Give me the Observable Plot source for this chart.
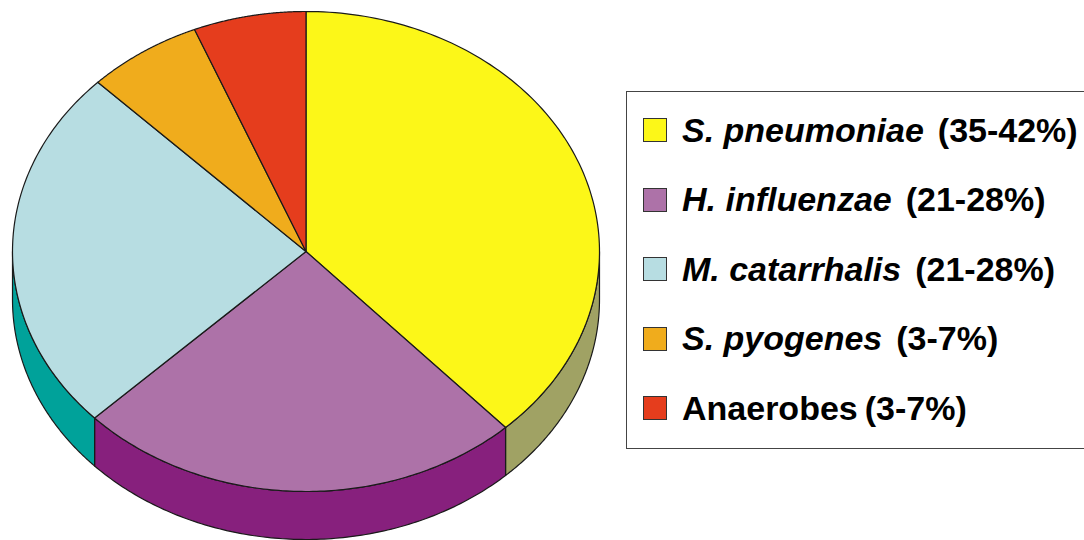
<!DOCTYPE html>
<html>
<head>
<meta charset="utf-8">
<script src="https://cdn.jsdelivr.net/npm/d3@7"></script>
<script src="https://cdn.jsdelivr.net/npm/@observablehq/plot@0.6"></script>
<style>
html,body{margin:0;padding:0;background:#fff;width:1084px;height:540px;overflow:hidden}
#wrap{position:relative;width:1084px;height:540px}
#legend{position:absolute;left:626px;top:91px;width:470px;height:358px;box-sizing:border-box;border:1px solid #444;background:#fff;
  font-family:"Liberation Sans",Arial,sans-serif;font-weight:bold;font-size:34px;color:#000}
.row{position:absolute;left:16px;height:24px;display:flex;align-items:center;white-space:nowrap}
.sw{width:22px;height:22px;border:1px solid #333;margin-right:15px;flex:none}
.name{font-style:italic;margin-right:15px}
</style>
</head>
<body>
<div id="wrap"></div>
<script>
const labels = ["S. pneumoniae", "H. influenzae", "M. catarrhalis", "S. pyogenes", "Anaerobes"];
const ranges = ["(35-42%)", "(21-28%)", "(21-28%)", "(3-7%)", "(3-7%)"];
const italics = [true, true, true, true, false];
const shares = [38.1, 24.7, 24.65, 6.35, 6.2];
const topColors = ["#fcf718", "#ad72a8", "#b7dde2", "#f0ac1c", "#e53d1d"];
const sideColors = ["#a0a264", "#87207d", "#00a29a", "#c08a16", "#b83017"];
const depth = 0.2;

// Cumulative slice angles, clockwise from 12 o'clock
const total = d3.sum(shares);
const cum = d3.cumsum(shares);
const angle = v => (v / total) * 2 * Math.PI;
const slices = shares.map((s, i) => ({
  i, a0: angle(cum[i] - s), a1: angle(cum[i])
}));
const arc = (a0, a1, dy = 0) =>
  d3.range(0, 121).map(k => {
    const a = a0 + (a1 - a0) * k / 120;
    return {x: Math.sin(a), y: Math.cos(a) - dy};
  });

const marks = [];
// Rim: only the front half of the disc is visible
for (const s of slices) {
  const a0 = Math.max(s.a0, Math.PI / 2), a1 = Math.min(s.a1, 3 * Math.PI / 2);
  if (a1 <= a0) continue;
  const pts = [...arc(a0, a1), ...arc(a0, a1, depth).reverse()];
  pts.push(pts[0]);
  marks.push(Plot.line(pts, {x: "x", y: "y", fill: sideColors[s.i], stroke: "#1a1a1a", strokeWidth: 1.2, strokeLinejoin: "round"}));
}
// Top face
for (const s of slices) {
  const pts = [{x: 0, y: 0}, ...arc(s.a0, s.a1), {x: 0, y: 0}];
  marks.push(Plot.line(pts, {x: "x", y: "y", fill: topColors[s.i], stroke: "#1a1a1a", strokeWidth: 1.2, strokeLinejoin: "round"}));
}

const chart = Plot.plot({
  width: 1084,
  height: 540,
  margin: 0,
  x: {domain: [-1, 1], range: [12, 599], axis: null},
  y: {domain: [1, -1 - depth], range: [11, 539], axis: null},
  style: {background: "#fff"},
  marks
});
const wrap = document.getElementById("wrap");
wrap.appendChild(chart);

const legend = document.createElement("div");
legend.id = "legend";
labels.forEach((l, i) => {
  const row = document.createElement("div");
  row.className = "row";
  row.style.top = (26 + i * 69.5) + "px";
  const sw = document.createElement("span");
  sw.className = "sw";
  sw.style.background = topColors[i];
  const name = document.createElement("span");
  name.className = "name";
  name.style.fontStyle = italics[i] ? "italic" : "normal";
  name.style.marginRight = italics[i] ? "14px" : "7px";
  name.textContent = l;
  const r = document.createElement("span");
  r.textContent = ranges[i];
  row.append(sw, name, r);
  legend.appendChild(row);
});
wrap.appendChild(legend);
</script>
</body>
</html>
